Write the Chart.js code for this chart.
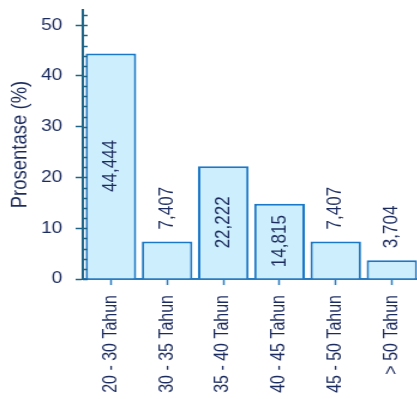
<!DOCTYPE html>
<html>
<head>
<meta charset="utf-8">
<script src="https://cdn.jsdelivr.net/npm/chart.js@4.4.1/dist/chart.umd.min.js"></script>
<style>
    html, body { margin: 0; padding: 0; background: #ffffff; overflow: hidden; }
    /* chart is drawn narrower and stretched sideways */
    #wrap { position: relative; width: 350px; height: 399px; transform: scaleX(1.2); transform-origin: 0 0; }
</style>
</head>
<body>
<div id="wrap"><canvas id="chartUsia"></canvas></div>
<script>
var kelompokUsia = ['20 - 30 Tahun', '30 - 35 Tahun', '35 - 40 Tahun', '40 - 45 Tahun', '45 - 50 Tahun', '> 50 Tahun'];
var persentase = [44.444, 7.407, 22.222, 14.815, 7.407, 3.704];
var tickY = [0, 10, 20, 30, 40, 50];

var warnaTeks = '#1b2b5e';
var warnaSumbu = '#1f6486';
var warnaBatang = '#1a78c8';
var warnaIsi = '#cdeefc';
var hurufDasar = "'Liberation Sans', Arial, sans-serif";

function formatKoma(v) {
    return v.toFixed(3).replace('.', ',');
}

// small ticks every 2 units, on the inner side of the y axis
var minorTicks = {
    id: 'minorTicks',
    afterDatasetsDraw: function (chart) {
        var y = chart.scales.y;
        var ctx = chart.ctx;
        var x0 = chart.chartArea.left;
        ctx.save();
        ctx.strokeStyle = warnaSumbu;
        ctx.lineWidth = 1.5;
        for (var v = 0; v <= y.max; v += 2) {
            var py = Math.round(y.getPixelForValue(v)) + 0.5;
            ctx.beginPath();
            ctx.moveTo(x0, py);
            ctx.lineTo(x0 + 4, py);
            ctx.stroke();
        }
        ctx.restore();
    }
};

// value labels, vertical; inside the bar if it fits, otherwise above it
var nilaiBatang = {
    id: 'nilaiBatang',
    afterDatasetsDraw: function (chart) {
        var ctx = chart.ctx;
        var meta = chart.getDatasetMeta(0);
        ctx.save();
        ctx.font = '17px ' + hurufDasar;
        ctx.fillStyle = warnaTeks;
        ctx.textBaseline = 'middle';
        meta.data.forEach(function (bar, i) {
            var teks = formatKoma(persentase[i]);
            var lebar = ctx.measureText(teks).width;
            var tinggi = bar.base - bar.y;
            ctx.save();
            if (lebar + 10 < tinggi) {
                ctx.translate(bar.x, (bar.y + bar.base) / 2);
                ctx.rotate(-Math.PI / 2);
                ctx.textAlign = 'center';
            } else {
                ctx.translate(bar.x, bar.y - 12);
                ctx.rotate(-Math.PI / 2);
                ctx.textAlign = 'left';
            }
            ctx.fillText(teks, 0, 0);
            ctx.restore();
        });
        ctx.restore();
    }
};

var chartUsia = new Chart(document.getElementById('chartUsia'), {
    type: 'bar',
    data: {
        labels: kelompokUsia,
        datasets: [{
            data: persentase,
            backgroundColor: warnaIsi,
            borderColor: warnaBatang,
            borderWidth: 2,
            barPercentage: 0.9,
            categoryPercentage: 1.0
        }]
    },
    options: {
        responsive: true,
        maintainAspectRatio: false,
        animation: false,
        layout: { padding: { top: 10, left: 0, right: 0, bottom: 0 } },
        plugins: {
            legend: { display: false },
            tooltip: { enabled: false }
        },
        scales: {
            x: {
                afterFit: function (scale) {
                    scale.height = 120;
                    scale.paddingLeft = 0;
                    scale.paddingRight = 0;
                },
                border: { color: '#2a7cc0', width: 2 },
                grid: {
                    offset: false,
                    drawOnChartArea: false,
                    tickLength: 6,
                    tickColor: '#2a7cc0',
                    tickWidth: 1.5
                },
                ticks: {
                    color: warnaTeks,
                    font: { family: hurufDasar, size: 16 },
                    minRotation: 90,
                    maxRotation: 90,
                    padding: 10,
                    autoSkip: false
                }
            },
            y: {
                z: 1,
                min: 0,
                max: 53,
                afterFit: function (scale) {
                    scale.width = 69;
                    scale.paddingTop = 0;
                    scale.paddingBottom = 0;
                },
                afterBuildTicks: function (scale) {
                    scale.ticks = tickY.map(function (v) { return { value: v }; });
                },
                border: { color: warnaSumbu, width: 2 },
                grid: {
                    drawOnChartArea: false,
                    tickLength: 6,
                    tickColor: warnaSumbu,
                    tickWidth: 1.5
                },
                ticks: {
                    color: warnaTeks,
                    font: { family: hurufDasar, size: 16 },
                    padding: 11
                },
                title: {
                    display: true,
                    text: 'Prosentase (%)',
                    color: warnaTeks,
                    font: { family: hurufDasar, size: 18.5 },
                    padding: { top: 6, bottom: 0 }
                }
            }
        }
    },
    plugins: [minorTicks, nilaiBatang]
});
</script>
</body>
</html>
